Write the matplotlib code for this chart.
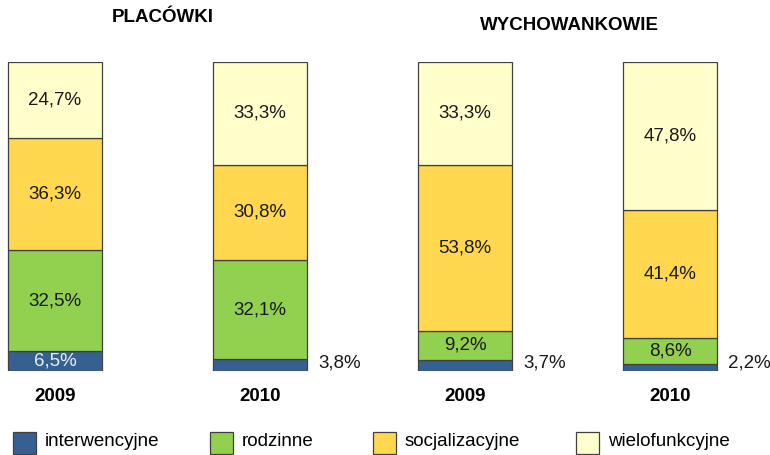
import matplotlib.pyplot as plt
from matplotlib.patches import Rectangle

plt.rcParams['font.family'] = ['Liberation Sans', 'DejaVu Sans']

# Data
years = ['2009', '2010', '2009', '2010']
categories = ['interwencyjne', 'rodzinne', 'socjalizacyjne', 'wielofunkcyjne']
interwencyjne = [6.5, 3.8, 3.7, 2.2]
rodzinne = [32.5, 32.1, 9.2, 8.6]
socjalizacyjne = [36.3, 30.8, 53.8, 41.4]
wielofunkcyjne = [24.7, 33.3, 33.3, 47.8]
groups = ['PLACÓWKI', 'WYCHOWANKOWIE']

colors = ['#376092', '#92D050', '#FFD84F', '#FFFFCC']
edge = '#404040'
fs = 13.5

W, H = 770, 455
fig = plt.figure(figsize=(W / 100, H / 100), dpi=100)

# bars: centers at 55 + 205*i px, width 94 px, 100% = 309 px
step = 205.0
x0 = -55.0 / step
x1 = (W - 55.0) / step
ax = fig.add_axes([0, 1 - 371 / H, 1, 309 / H])
ax.set_xlim(x0, x1)
ax.set_ylim(0, 100)
ax.axis('off')

xs = list(range(len(years)))
width = 94 / step
series = [interwencyjne, rodzinne, socjalizacyjne, wielofunkcyjne]
bottom = [0.0] * len(xs)
for ci, vals in enumerate(series):
    ax.bar(xs, vals, width, bottom=bottom, color=colors[ci],
           edgecolor=edge, linewidth=0.9)
    for i, v in enumerate(vals):
        lab = f'{v:.1f}%'.replace('.', ',')
        if ci == 0:
            if v > 5:
                ax.text(xs[i], bottom[i] + v / 2, lab, ha='center', va='center',
                        fontsize=fs, color='#E8EEF5')
            else:
                ax.text(xs[i] + width / 2 + 11 / step, 2.7, lab, ha='left',
                        va='center', fontsize=fs, color='#1a1a1a')
        else:
            ax.text(xs[i], bottom[i] + v / 2, lab, ha='center', va='center',
                    fontsize=fs, color='#1a1a1a')
    bottom = [b + v for b, v in zip(bottom, vals)]

# year labels
for i, y in enumerate(years):
    ax.text(xs[i], -8.4, y, ha='center', va='center', fontsize=fs,
            fontweight='bold')

# group titles
fig.text(163 / W, 1 - 18 / H, groups[0], ha='center', va='center',
         fontsize=fs, fontweight='bold')
fig.text(569 / W, 1 - 25 / H, groups[1], ha='center', va='center',
         fontsize=fs, fontweight='bold')

# legend
box_x = [13, 210, 373, 576]
for i, name in enumerate(categories):
    fig.patches.append(Rectangle((box_x[i] / W, 1 - 454 / H), 23 / W, 22 / H,
                                 transform=fig.transFigure, facecolor=colors[i],
                                 edgecolor=edge, linewidth=0.9))
    fig.text((box_x[i] + 32) / W, 1 - 442 / H, name, ha='left', va='center',
             fontsize=fs)

fig.savefig('out.png', dpi=100)
